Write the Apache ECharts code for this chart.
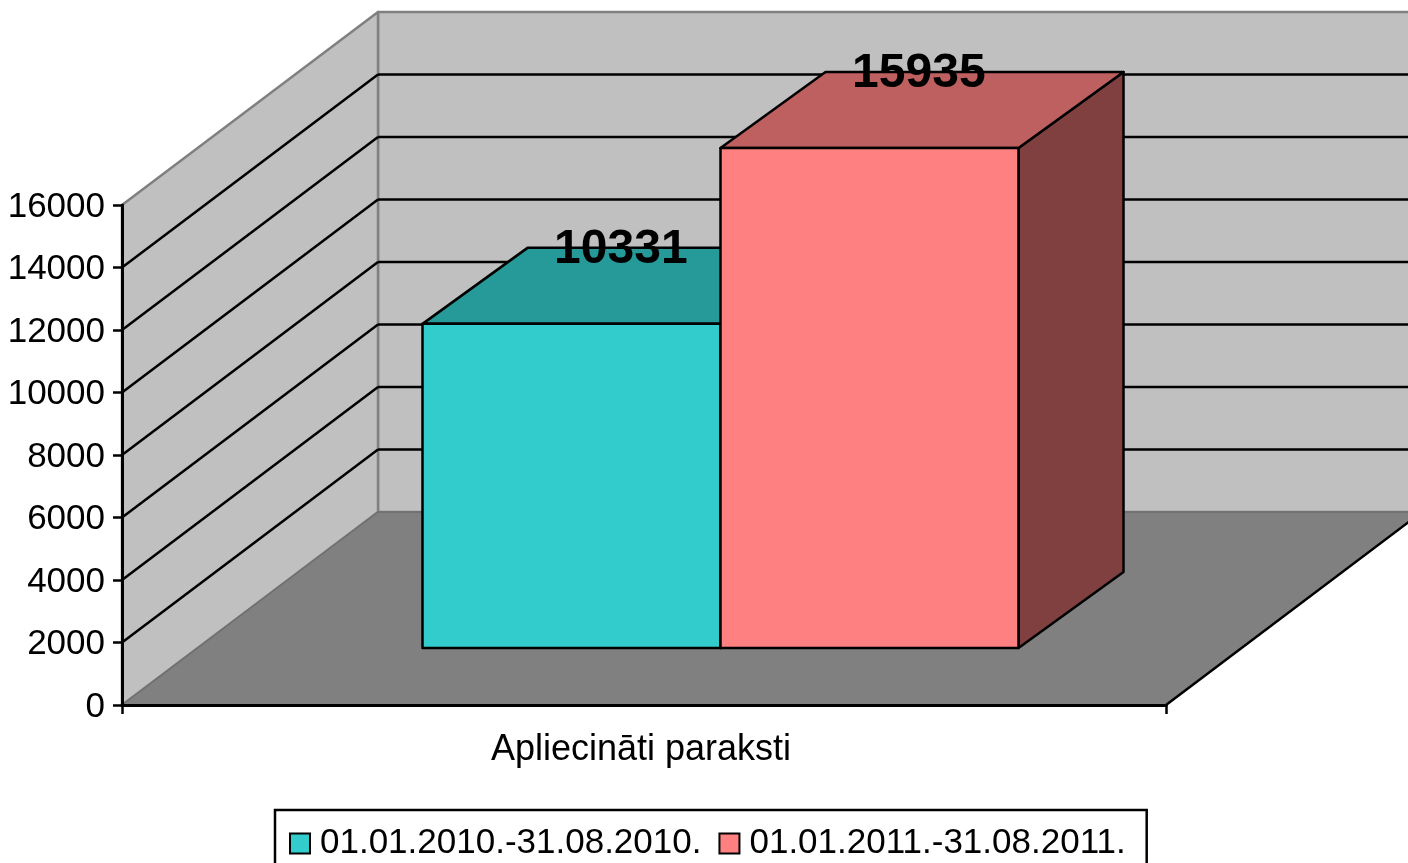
<!DOCTYPE html>
<html>
<head>
<meta charset="utf-8">
<style>
    html, body { margin: 0; padding: 0; background: #fff; overflow: hidden; }
    #myChart { width: 1408px; height: 863px; }
</style>
<script src="https://cdn.jsdelivr.net/npm/echarts@6/dist/echarts.min.js"></script>
</head>
<body>
<div id="myChart"></div>
<script>
const categories = ['Apliecināti paraksti'];
const seriesNames = ['01.01.2010.-31.08.2010.', '01.01.2011.-31.08.2011.'];
const values2010 = [10331];
const values2011 = [15935];
const gridValues = [2000, 4000, 6000, 8000, 10000, 12000, 14000];

const FONT = '"Liberation Sans", Arial, sans-serif';
// 3D look: how far the back wall is pushed from the front plane
const DEPTH_X = 256;
const DEPTH_Y = 193;
// where the bars stand on the floor and how deep they are
const BAR_FRONT_X = 76.5;
const BAR_FRONT_Y = 57;
const BAR_DEPTH_X = 105;
const BAR_DEPTH_Y = 76;
const BAR_WIDTH = 298 / 1044;
// bar plane sits a bit closer to the viewer than the axis plane
const BAR_SCALE = 1.004;

function line(x1, y1, x2, y2, color, width) {
    return {
        type: 'line',
        shape: { x1: x1, y1: y1, x2: x2, y2: y2 },
        style: { stroke: color, lineWidth: width }
    };
}

function poly(points, fill, stroke, width) {
    return {
        type: 'polygon',
        shape: { points: points },
        style: { fill: fill, stroke: stroke, lineWidth: width, lineJoin: 'round' }
    };
}

// side wall, back wall and floor
function renderWalls(params) {
    const g = params.coordSys;
    const l = g.x, r = g.x + g.width, t = g.y, b = g.y + g.height;
    const dx = DEPTH_X, dy = DEPTH_Y;
    return {
        type: 'group',
        children: [
            poly([[l + dx, t - dy], [r + dx, t - dy], [r + dx, b - dy], [l + dx, b - dy]], '#C0C0C0', '#808080', 2.5),
            poly([[l, t], [l + dx, t - dy], [l + dx, b - dy], [l, b]], '#C0C0C0', '#808080', 2.5),
            poly([[l, b], [l + dx, b - dy], [r + dx, b - dy], [r, b]], '#808080', '#6E6E6E', 1.5),
            line(r, b, r + dx, b - dy, '#000', 2.5)
        ]
    };
}

function renderGridLine(params, api) {
    const g = params.coordSys;
    const y = api.coord([0, api.value(0)])[1];
    const l = g.x, r = g.x + g.width;
    return {
        type: 'group',
        children: [
            line(l, y, l + DEPTH_X, y - DEPTH_Y, '#000', 2.5),
            line(l + DEPTH_X, y - DEPTH_Y, r + DEPTH_X, y - DEPTH_Y, '#000', 2.5)
        ]
    };
}

function barBox(params, api, seriesIndex) {
    const center = api.coord([0, 0])[0];
    const base = api.coord([0, 0])[1];
    const top = api.coord([0, api.value(0)])[1];
    const w = params.coordSys.width * BAR_WIDTH;
    const x0 = center - w + seriesIndex * w + BAR_FRONT_X;
    const y0 = base - BAR_FRONT_Y;
    return { x0: x0, x1: x0 + w, y0: y0, y1: y0 - (base - top) * BAR_SCALE };
}

function makeBar(seriesIndex, colors) {
    return function (params, api) {
        const b = barBox(params, api, seriesIndex);
        const bx = BAR_DEPTH_X, by = BAR_DEPTH_Y;
        return {
            type: 'group',
            children: [
                poly([[b.x1, b.y1], [b.x1 + bx, b.y1 - by], [b.x1 + bx, b.y0 - by], [b.x1, b.y0]], colors[2], '#000', 2.5),
                poly([[b.x0, b.y1], [b.x0 + bx, b.y1 - by], [b.x1 + bx, b.y1 - by], [b.x1, b.y1]], colors[1], '#000', 2.5),
                poly([[b.x0, b.y1], [b.x1, b.y1], [b.x1, b.y0], [b.x0, b.y0]], colors[0], '#000', 2.5)
            ]
        };
    };
}

function renderLabel(seriesIndex) {
    return function (params, api) {
        const b = barBox(params, api, seriesIndex);
        return {
            type: 'text',
            z2: 100,
            style: {
                x: (b.x0 + b.x1) / 2 + BAR_DEPTH_X * 0.47,
                y: b.y1 - BAR_DEPTH_Y + 2,
                text: String(api.value(0)),
                fill: '#000',
                font: 'bold 48px ' + FONT,
                align: 'center',
                verticalAlign: 'middle'
            }
        };
    };
}

const myChart = echarts.init(document.getElementById('myChart'), null, { renderer: 'canvas' });

myChart.setOption({
    animation: false,
    backgroundColor: '#fff',
    grid: { left: 122, top: 205, width: 1044, height: 500 },
    legend: {
        data: seriesNames,
        left: 275,
        top: 810,
        orient: 'horizontal',
        padding: [16, 21, 30, 14],
        itemGap: 17,
        itemWidth: 20,
        itemHeight: 20,
        icon: 'rect',
        borderColor: '#000',
        borderWidth: 2.5,
        backgroundColor: '#fff',
        textStyle: { color: '#000', fontSize: 35, fontFamily: FONT, padding: [0, 0, 0, 5] }
    },
    xAxis: {
        type: 'category',
        data: categories,
        z: 5,
        axisLine: { lineStyle: { color: '#000', width: 3 } },
        axisTick: { show: true, length: 9, interval: 0, lineStyle: { color: '#000', width: 2.5 } },
        axisLabel: { color: '#000', fontSize: 36, fontFamily: FONT, margin: 27, padding: [0, 6, 0, 0] }
    },
    yAxis: {
        type: 'value',
        min: 0,
        max: 16000,
        interval: 2000,
        z: 5,
        splitLine: { show: false },
        axisLine: { show: true, lineStyle: { color: '#000', width: 3 } },
        axisTick: { show: true, length: 9, lineStyle: { color: '#000', width: 2.5 } },
        axisLabel: {
            color: '#000', fontSize: 35, fontFamily: FONT, margin: 17,
            verticalAlign: 'top', lineHeight: 4,
            formatter: function (v) { return String(v); }
        }
    },
    series: [
        { type: 'custom', silent: true, z: 1, data: [0], renderItem: renderWalls },
        { type: 'custom', silent: true, z: 1, data: gridValues, encode: { y: 0 }, renderItem: renderGridLine },
        {
            type: 'custom', name: seriesNames[0], z: 2, data: values2010, encode: { y: 0 },
            itemStyle: { color: '#33CCCC', borderColor: '#000', borderWidth: 2.5 },
            renderItem: makeBar(0, ['#33CCCC', '#269999', '#1A6666'])
        },
        {
            type: 'custom', name: seriesNames[1], z: 3, data: values2011, encode: { y: 0 },
            itemStyle: { color: '#FF8080', borderColor: '#000', borderWidth: 2.5 },
            renderItem: makeBar(1, ['#FF8080', '#BF6060', '#804040'])
        },
        { type: 'custom', silent: true, z: 4, data: values2010, encode: { y: 0 }, renderItem: renderLabel(0) },
        { type: 'custom', silent: true, z: 4, data: values2011, encode: { y: 0 }, renderItem: renderLabel(1) }
    ]
});
</script>
</body>
</html>
